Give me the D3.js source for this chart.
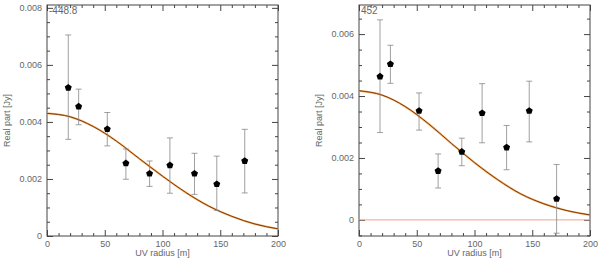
<!DOCTYPE html>
<html>
<head>
<meta charset="utf-8">
<script src="https://cdn.jsdelivr.net/npm/d3@7"></script>
<style>
  body { margin: 0; background: #fff; }
  svg text { font-family: "Liberation Sans", Arial, sans-serif; fill: #666; }
</style>
</head>
<body>
<div id="chart"></div>
<script>
// Left panel (-448.8)
const leftLabel = '-448.8';
const leftX = [18.4, 27.4, 52.2, 68.3, 88.8, 106.4, 127.7, 147, 171.2];
const leftY = [0.0052, 0.00454, 0.00375, 0.00255, 0.00219, 0.00248, 0.00219, 0.00182, 0.00263];
const leftHi = [0.00705, 0.00515, 0.00433, 0.00305, 0.00263, 0.00344, 0.0029, 0.0028, 0.00374];
const leftLo = [0.00339, 0.0039, 0.00316, 0.00199, 0.00174, 0.0015, 0.00146, 0.0009, 0.00151];
const leftFitY = [0.0043, 0.00418, 0.00384, 0.00333, 0.00271, 0.0021, 0.00153, 0.00105, 0.00069, 0.00042, 0.00025];

// Right panel (452)
const rightLabel = '452';
const rightX = [18.2, 27.2, 52, 68.5, 89, 106.6, 127.8, 147.4, 171.1];
const rightY = [0.00463, 0.00503, 0.00352, 0.00158, 0.0022, 0.00345, 0.00234, 0.00352, 0.00068];
const rightHi = [0.00646, 0.00564, 0.0041, 0.00213, 0.00264, 0.0044, 0.00305, 0.00448, 0.00179];
const rightLo = [0.00282, 0.00441, 0.0029, 0.00103, 0.00175, 0.00249, 0.00162, 0.00252, -0.00043];
const rightFitY = [0.00417, 0.00403, 0.00366, 0.00311, 0.00247, 0.00185, 0.0013, 0.00084, 0.00052, 0.0003, 0.00016];

const fitX = [0, 20, 40, 60, 80, 100, 120, 140, 160, 180, 200];
const xTicks = [0, 50, 100, 150, 200];

const width = 600, height = 260;
const svg = d3.select('#chart').append('svg')
    .attr('width', width)
    .attr('height', height);

// pentagon marker
const pentagon = {
    draw(ctx, size) {
        const r = Math.sqrt(size / 2.38);
        for (let i = 0; i < 5; i++) {
            const a = -Math.PI / 2 + i * 2 * Math.PI / 5;
            const px = r * Math.cos(a), py = r * Math.sin(a);
            if (i === 0) ctx.moveTo(px, py); else ctx.lineTo(px, py);
        }
        ctx.closePath();
    }
};

function drawPanel(opts) {
    const x = d3.scaleLinear().domain([0, 200]).range([opts.left, opts.right]);
    const y = d3.scaleLinear().domain(opts.yDomain).range([236, 5]);
    const g = svg.append('g');

    const yMajor = opts.yTicks;
    const yMinor = d3.range(Math.ceil(opts.yDomain[0] / 0.0005), Math.floor(opts.yDomain[1] / 0.0005) + 1)
        .map(k => k * 0.0005).filter(v => !yMajor.some(m => Math.abs(m - v) < 1e-9));
    const xMinor = d3.range(0, 201, 10).filter(v => v % 50 !== 0);
    const fmt = d => d === 0 ? '0' : d3.format('.3f')(d);

    function styleAxis(sel) {
        sel.select('.domain').remove();
        sel.selectAll('line').attr('stroke', '#444');
        sel.selectAll('text').style('font-size', '9px').attr('fill', '#666');
    }

    // minor ticks all four sides
    g.append('g').attr('transform', 'translate(0,236)')
        .call(d3.axisBottom(x).tickValues(xMinor).tickSize(-3).tickFormat(''))
        .call(styleAxis);
    g.append('g').attr('transform', 'translate(0,5)')
        .call(d3.axisTop(x).tickValues(xMinor).tickSize(-3).tickFormat(''))
        .call(styleAxis);
    g.append('g').attr('transform', `translate(${opts.left},0)`)
        .call(d3.axisLeft(y).tickValues(yMinor).tickSize(-3).tickFormat(''))
        .call(styleAxis);
    g.append('g').attr('transform', `translate(${opts.right},0)`)
        .call(d3.axisRight(y).tickValues(yMinor).tickSize(-3).tickFormat(''))
        .call(styleAxis);

    // major ticks
    g.append('g').attr('transform', 'translate(0,236)')
        .call(d3.axisBottom(x).tickValues(xTicks).tickSize(-6).tickPadding(5).tickFormat(d3.format('d')))
        .call(styleAxis);
    g.append('g').attr('transform', 'translate(0,5)')
        .call(d3.axisTop(x).tickValues(xTicks).tickSize(-6).tickFormat(''))
        .call(styleAxis);
    g.append('g').attr('transform', `translate(${opts.left},0)`)
        .call(d3.axisLeft(y).tickValues(yMajor).tickSize(-6).tickPadding(5).tickFormat(fmt))
        .call(styleAxis);
    g.append('g').attr('transform', `translate(${opts.right},0)`)
        .call(d3.axisRight(y).tickValues(yMajor).tickSize(-6).tickFormat(''))
        .call(styleAxis);

    // frame
    g.append('rect')
        .attr('x', opts.left).attr('y', 5)
        .attr('width', opts.right - opts.left).attr('height', 231)
        .attr('fill', 'none').attr('stroke', '#444').attr('stroke-width', 1);

    // zero line
    if (opts.yDomain[0] < 0) {
        g.append('line')
            .attr('x1', x(0)).attr('x2', x(200))
            .attr('y1', y(0)).attr('y2', y(0))
            .attr('stroke', '#eca58a').attr('stroke-width', 1);
    }

    // fitted curve
    const fit = fitX.map((v, i) => [v, opts.fit[i]]);
    const line = d3.line().x(d => x(d[0])).y(d => y(d[1])).curve(d3.curveMonotoneX);
    g.append('path').datum(fit).attr('d', line)
        .attr('fill', 'none').attr('stroke', '#f7b060').attr('stroke-width', 2);
    g.append('path').datum(fit).attr('d', line)
        .attr('fill', 'none').attr('stroke', '#7a3a10').attr('stroke-width', 1);

    // error bars
    const pts = opts.xs.map((v, i) => ({ x: v, y: opts.ys[i], hi: opts.hi[i], lo: opts.lo[i] }));
    const eb = g.append('g').attr('stroke', '#888').attr('stroke-width', 0.8);
    pts.forEach(p => {
        eb.append('line').attr('x1', x(p.x)).attr('x2', x(p.x)).attr('y1', y(p.lo)).attr('y2', y(p.hi));
        eb.append('line').attr('x1', x(p.x) - 3).attr('x2', x(p.x) + 3).attr('y1', y(p.lo)).attr('y2', y(p.lo));
        eb.append('line').attr('x1', x(p.x) - 3).attr('x2', x(p.x) + 3).attr('y1', y(p.hi)).attr('y2', y(p.hi));
    });

    // markers
    g.selectAll('path.pt').data(pts).join('path')
        .attr('class', 'pt')
        .attr('transform', d => `translate(${x(d.x)},${y(d.y)})`)
        .attr('d', d3.symbol().type(pentagon).size(32))
        .attr('fill', '#000');

    // labels
    g.append('text')
        .attr('x', opts.left + 2).attr('y', 14)
        .style('font-size', '10px')
        .text(opts.label);
    g.append('text')
        .attr('x', (opts.left + opts.right) / 2).attr('y', 256)
        .attr('text-anchor', 'middle')
        .style('font-size', '9px')
        .text('UV radius [m]');
    g.append('text')
        .attr('transform', `translate(${opts.left - 37},${(5 + 236) / 2}) rotate(-90)`)
        .attr('text-anchor', 'middle')
        .style('font-size', '9px')
        .text('Real part [Jy]');
}

drawPanel({
    left: 47, right: 278, yDomain: [0, 0.0081],
    yTicks: [0, 0.002, 0.004, 0.006, 0.008],
    xs: leftX, ys: leftY, hi: leftHi, lo: leftLo, fit: leftFitY, label: leftLabel
});
drawPanel({
    left: 359, right: 590, yDomain: [-0.00052, 0.00694],
    yTicks: [0, 0.002, 0.004, 0.006],
    xs: rightX, ys: rightY, hi: rightHi, lo: rightLo, fit: rightFitY, label: rightLabel
});
</script>
</body>
</html>
